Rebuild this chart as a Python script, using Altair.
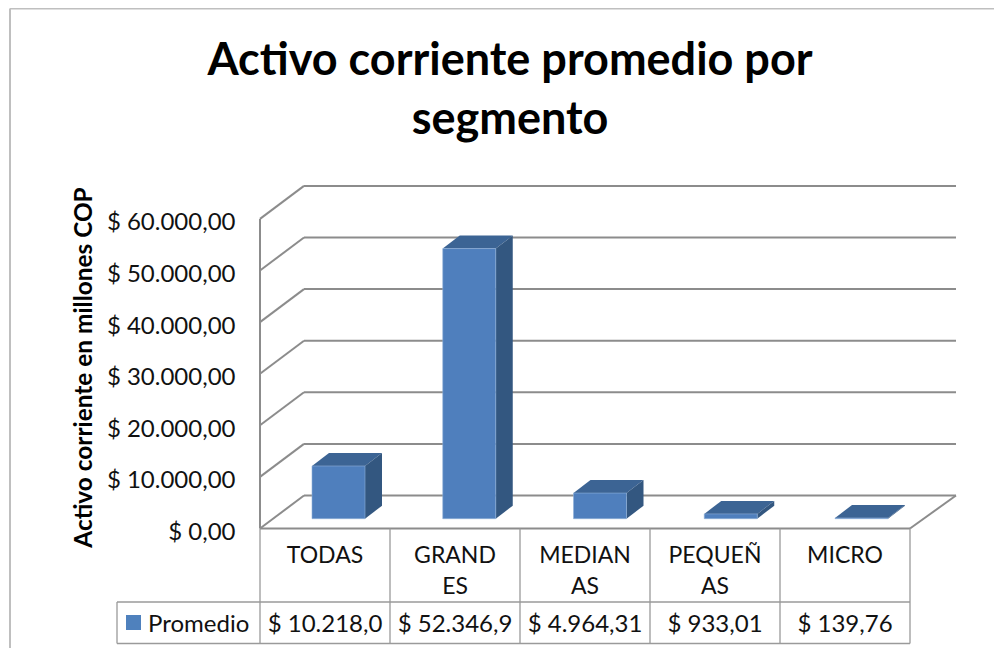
import json
import altair as alt
import pandas as pd

# ---- chart values
categories = ["TODAS", "GRAND\nES", "MEDIAN\nAS", "PEQUEÑ\nAS", "MICRO"]
values = [10218.0, 52346.9, 4964.31, 933.01, 139.76]
value_labels = ["$ 10.218,0", "$ 52.346,9", "$ 4.964,31", "$ 933,01", "$ 139,76"]
series_name = "Promedio"
y_ticks = [0, 10000, 20000, 30000, 40000, 50000, 60000]
y_tick_labels = ["$ 0,00", "$ 10.000,00", "$ 20.000,00", "$ 30.000,00",
                 "$ 40.000,00", "$ 50.000,00", "$ 60.000,00"]
title_text = "Activo corriente promedio por\nsegmento"
y_title = "Activo corriente en millones COP"

# ---- layout (unit of x: one category; unit of y: the value axis)
FONT = "Lato"
PX_X = 130.0            # pixels per category
PX_Y = 51.6 / 10000.0   # pixels per value unit
W, H = 696, 343.5       # plot area (walls + floor)
PAD = dict(left=252, top=177, right=38, bottom=119.5)
WALL_DX = 44 / PX_X
WALL_DY = 33 / PX_Y
WALL_EXTRA = 2 / PX_X
BAR_X0 = 52 / PX_X
BAR_STEP = 130.75 / PX_X
BAR_W = 53 / PX_X
BAR_LIFT = 9.8 / PX_Y
BAR_DX = 17 / PX_X
BAR_DY = 13 / PX_Y
N = len(categories)


def px_x(x):
    return (x - 260) / PX_X


def px_y(y):
    return (528.5 - y) / PX_Y


X = alt.X("x:Q", axis=None,
          scale=alt.Scale(domain=[0, W / PX_X], nice=False, zero=False))
Y = alt.Y("y:Q", title=y_title,
          scale=alt.Scale(domain=[0, H / PX_Y], nice=False, zero=False),
          axis=alt.Axis(values=y_ticks, grid=False, domain=False, ticks=False,
                        labelExpr=f"{json.dumps(y_tick_labels)}[datum.value/10000]",
                        labelFont=FONT, labelFontSize=24, labelColor="#111111",
                        labelPadding=25, labelOverlap=False, labelFlush=False,
                        labelOffset=4,
                        titleFont=FONT, titleFontSize=24.4, titleFontWeight="bold",
                        titleColor="#000000", titleX=-164, titleY=182))


def rules(segments, color, width):
    df = pd.DataFrame(segments, columns=["x", "y", "x2", "y2"])
    return alt.Chart(df).mark_rule(color=color, strokeWidth=width, clip=False).encode(
        x=X, y=Y, x2="x2:Q", y2="y2:Q")


# walls and floor
wall = []
for v in y_ticks:
    wall.append((0, v, WALL_DX, v + WALL_DY))
    wall.append((WALL_DX, v + WALL_DY, N + WALL_DX + WALL_EXTRA, v + WALL_DY))
wall.append((0, 0, 0, y_ticks[-1]))
wall.append((N, 0, N + WALL_DX + WALL_EXTRA, WALL_DY))
wall_layer = rules(wall, "#8c8c8c", 2)
floor_front = rules([(0, 0, N, 0)], "#8c8c8c", 2.2)

# 3D bars
top_rows, side_rows, front_rows = [], [], []
for i, v in enumerate(values):
    x0 = i * BAR_STEP + BAR_X0
    x1 = x0 + BAR_W
    y0 = BAR_LIFT
    y1 = y0 + v
    front_rows.append(dict(x=x0, x2=x1, y=y0, y2=y1))
    side_rows += [dict(b=i, x=x1, y=y0, y2=y1),
                  dict(b=i, x=x1 + BAR_DX, y=y0 + BAR_DY, y2=y1 + BAR_DY)]
    top_rows += [dict(b=i, x=x0, y=y1, y2=y1),
                 dict(b=i, x=x0 + BAR_DX, y=y1, y2=y1 + BAR_DY),
                 dict(b=i, x=x1, y=y1, y2=y1 + BAR_DY),
                 dict(b=i, x=x1 + BAR_DX, y=y1 + BAR_DY, y2=y1 + BAR_DY)]

top = alt.Chart(pd.DataFrame(top_rows)).mark_area(
    color="#3c6494", orient="vertical", clip=False).encode(
    x=X, y=Y, y2="y2:Q", detail="b:N")
side = alt.Chart(pd.DataFrame(side_rows)).mark_area(
    color="#335780", orient="vertical", clip=False).encode(
    x=X, y=Y, y2="y2:Q", detail="b:N")
front = alt.Chart(pd.DataFrame(front_rows)).mark_rect(
    color="#4f7fbd", stroke="#8fb0d8", strokeWidth=0.6, clip=False).encode(
    x=X, x2="x2:Q", y=Y, y2="y2:Q")

# data table
T_ROW1, T_ROW2, T_END = 528.5, 602, 643.5
table = [(i, px_y(T_ROW1), i, px_y(T_END)) for i in range(N + 1)]
table += [(px_x(117), px_y(T_ROW2), N, px_y(T_ROW2)),
          (px_x(117), px_y(T_END), N, px_y(T_END)),
          (px_x(117), px_y(T_ROW2), px_x(117), px_y(T_END))]
table_layer = rules(table, "#9a9a9a", 1.3)

cat_df = pd.DataFrame({"x": [i + 0.5 for i in range(N)],
                       "y": [px_y(556)] * N, "t": categories})
cat_text = alt.Chart(cat_df).mark_text(
    font=FONT, fontSize=23, color="#111111", lineBreak="\n", lineHeight=31,
    align="center", baseline="middle", clip=False).encode(x=X, y=Y, text="t:N")

val_df = pd.DataFrame({"x": [i + 0.5 for i in range(N)],
                       "y": [px_y(624.5)] * N, "t": value_labels})
val_text = alt.Chart(val_df).mark_text(
    font=FONT, fontSize=24, color="#111111", align="center", baseline="middle",
    clip=False).encode(x=X, y=Y, text="t:N")

leg_text = alt.Chart(pd.DataFrame({"x": [px_x(148)], "y": [px_y(624.5)], "t": [series_name]})).mark_text(
    font=FONT, fontSize=24, color="#111111", align="left", baseline="middle",
    clip=False).encode(x=X, y=Y, text="t:N")
leg_key = alt.Chart(pd.DataFrame({"x": [px_x(126)], "x2": [px_x(141)],
                                  "y": [px_y(630)], "y2": [px_y(615)]})).mark_rect(
    color="#4f81bd", clip=False).encode(x=X, x2="x2:Q", y=Y, y2="y2:Q")

# chart title
title_mark = alt.Chart(pd.DataFrame({"x": [px_x(510)], "y": [px_y(61)], "t": [title_text]})).mark_text(
    font=FONT, fontSize=45, fontWeight="bold", color="#000000", lineBreak="\n", lineHeight=59,
    align="center", baseline="middle", clip=False).encode(x=X, y=Y, text="t:N")

# outer frame, running off the picture at top right
frame = rules([(px_x(10), px_y(8.5), px_x(994), px_y(8.5)),
               (px_x(10), px_y(8.5), px_x(10), px_y(648))], "#bfbfbf", 2)

chart = alt.layer(frame, wall_layer, top, side, front, floor_front, table_layer,
                  cat_text, val_text, leg_text, leg_key, title_mark).properties(
    width=W, height=H,
    padding=PAD,
    autosize=alt.AutoSizeParams(type="none"),
).configure_view(stroke=None)

chart.save("out.html", embed_options={"renderer": "svg", "actions": False})
